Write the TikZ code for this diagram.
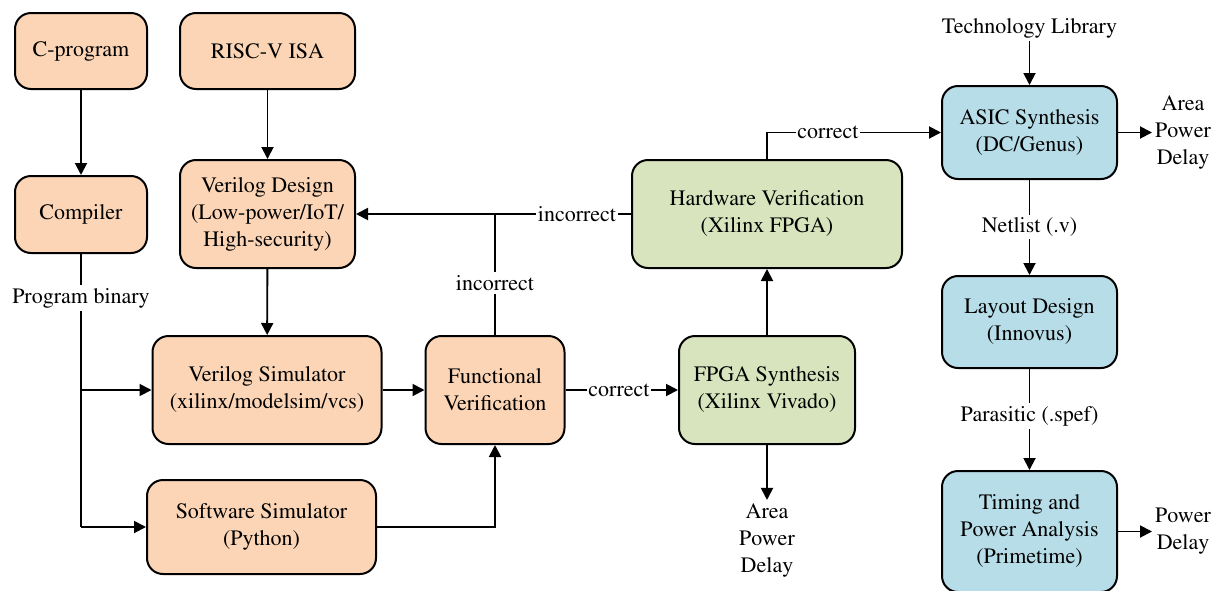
\documentclass[tikz,border=0pt]{standalone}
\usepackage[T1]{fontenc}
\usepackage{times}
\usetikzlibrary{arrows.meta}
\definecolor{peach}{RGB}{251,213,181}
\definecolor{sage}{RGB}{215,228,189}
\definecolor{sky}{RGB}{183,221,232}
\tikzset{
  blk/.style={draw=black, line width=2pt, rounded corners=16pt, align=center,
    inner sep=2pt, font=\rmfamily\fontsize{22}{27}\selectfont},
  orangebox/.style={blk, fill=peach},
  greenbox/.style={blk, fill=sage},
  bluebox/.style={blk, fill=sky},
  conn/.style={line width=1.9pt, -{Triangle[length=12pt,width=12pt]}},
  wire/.style={line width=1.9pt},
  lbl/.style={fill=white, inner xsep=1.5pt, inner ysep=3pt, align=center,
    font=\rmfamily\fontsize{22}{27}\selectfont},
  txt/.style={inner sep=3pt, align=center, font=\rmfamily\fontsize{22}{27}\selectfont},
}
\begin{document}
\begin{tikzpicture}[x=1pt, y=-1pt]
\useasboundingbox (0,0) rectangle (1229,590);

% software / design flow blocks
\node[orangebox, minimum width=132pt, minimum height=76pt] (cprog) at (81,51) {C-program};
\node[orangebox, minimum width=175pt, minimum height=76pt] (risc) at (267.5,51) {RISC-V ISA};
\node[orangebox, minimum width=132pt, minimum height=77pt] (comp) at (81,214.5) {Compiler};
\node[orangebox, minimum width=175pt, minimum height=108pt] (vd) at (267.5,214) {Verilog Design\\(Low-power/IoT/\\High-security)};
\node[orangebox, minimum width=229pt, minimum height=108pt] (vs) at (267,390) {Verilog Simulator\\(xilinx/modelsim/vcs)};
\node[orangebox, minimum width=229pt, minimum height=94pt] (ss) at (261.5,527) {Software Simulator\\(Python)};
\node[orangebox, minimum width=139pt, minimum height=108pt] (fv) at (495,390) {Functional\\Verification};

% FPGA blocks
\node[greenbox, minimum width=176pt, minimum height=108pt] (fpga) at (767,390) {FPGA Synthesis\\(Xilinx Vivado)};
\node[greenbox, minimum width=270pt, minimum height=108pt] (hw) at (767,214) {Hardware Verification\\(Xilinx FPGA)};

% ASIC blocks
\node[bluebox, minimum width=175pt, minimum height=93pt] (asic) at (1029.5,132.5) {ASIC Synthesis\\(DC/Genus)};
\node[bluebox, minimum width=175pt, minimum height=92pt] (layout) at (1029.5,322) {Layout Design\\(Innovus)};
\node[bluebox, minimum width=175pt, minimum height=121pt] (timing) at (1029.5,531.5) {Timing and\\Power Analysis\\(Primetime)};

% free texts
\node[txt] (tech) at (1029.5,28) {Technology Library};
\node[txt] (apdfpga) at (767,540) {Area\\Power\\Delay};
\node[txt, anchor=west] (apdasic) at (1152,132.5) {Area\\Power\\Delay};
\node[txt, anchor=west] (pdtim) at (1152,531.5) {Power\\Delay};

% connectors
\draw[conn] (cprog) -- (comp);
\draw[conn] (risc) -- (vd);
\draw[conn] (vd) -- (vs);
\draw[wire] (comp.south) -- (comp.south |- ss.west);
\draw[conn] (comp.south |- ss.west) -- (ss.west);
\draw[conn] (comp.south |- vs.west) -- (vs.west);
\draw[conn] (vs) -- (fv);
\draw[conn] (ss.east) -| (fv.south);
\draw[conn] (fv) -- (fpga);
\draw[conn] (fpga) -- (hw);
\draw[conn] (fpga.south) -- (apdfpga.north);
\draw[conn] (hw.west) -- (vd.east);
\draw[wire] (fv.north) -- (fv.north |- hw.west);
\draw[conn] (hw.north) |- (asic.west);
\draw[conn] (tech.south) -- (asic.north);
\draw[conn] (asic.east) -- (apdasic.west);
\draw[conn] (asic) -- (layout);
\draw[conn] (layout) -- (timing);
\draw[conn] (timing.east) -- (pdtim.west);

% connector labels
\node[lbl] (lpb) at (81,298) {Program binary};
\node[lbl] (lcor1) at (619,390) {correct};
\node[lbl] (lcor2) at (828,132.5) {correct};
\node[lbl] (linc1) at (577,214) {incorrect};
\node[lbl] (linc2) at (495,283) {incorrect};
\node[lbl] (lnet) at (1029.5,227) {Netlist (.v)};
\node[lbl] (lpar) at (1029.5,416) {Parasitic (.spef)};
\end{tikzpicture}
\end{document}
